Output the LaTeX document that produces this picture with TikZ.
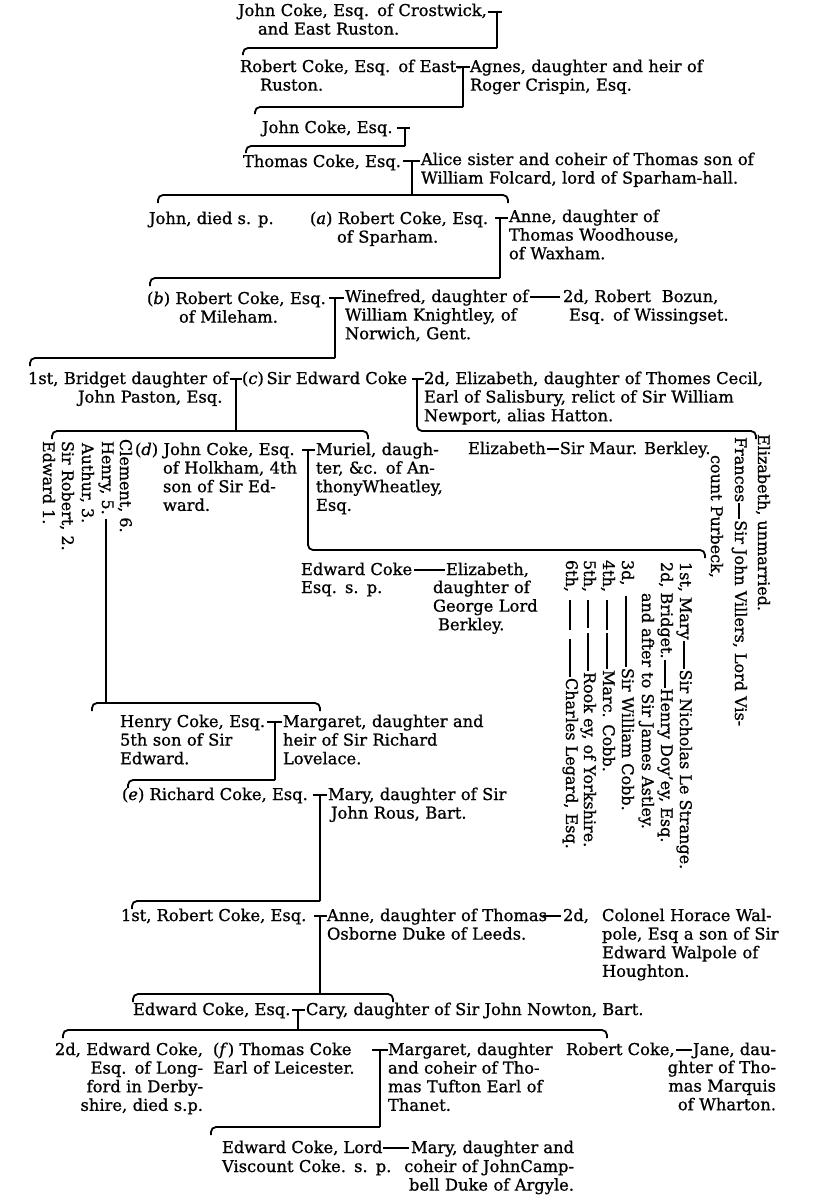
\documentclass[tikz,border=0pt]{standalone}
\usepackage{fontspec}
\setmainfont{DejaVu Serif}[FakeBold=0.9]
\usetikzlibrary{calc}
\newcommand{\jl}[2]{\makebox[#1pt][s]{#2}}
\newcommand{\myfs}{\fontsize{16.3}{18.6}\selectfont}
\newcommand{\myfr}{\fontsize{16}{18}\selectfont}
\begin{document}
\begin{tikzpicture}[x=1pt,y=-1pt,
  every node/.style={inner sep=0pt,outer sep=0pt},
  txt/.style={anchor=base west,align=left,text width=380pt,font=\myfs},
  txr/.style={anchor=base east,align=right,text width=300pt,font=\myfs},
  one/.style={anchor=base west,font=\myfs},
  oner/.style={anchor=base east,font=\myfs},
  rot/.style={anchor=base west,rotate=-90,font=\myfr},
  br/.style={line width=1.8pt,rounded corners=5pt},
  vl/.style={line width=1.7pt},
  tk/.style={line width=1.5pt},
  dsh/.style={line width=1.3pt}]
\fill[white] (0,0) rectangle (823,1200);
\useasboundingbox (0,0) rectangle (823,1200);

% ---- Row A
\node[txt] (a1) at (238,16) {John Coke, Esq. of Crostwick,\\\hspace*{20pt}and East Ruston.};
\coordinate (mA) at (497,12); \coordinate (bA) at (497,48);
\draw[tk] ([xshift=-9pt]mA) -- ([xshift=5pt]mA);
\draw[vl] (mA) -- (bA);
\draw[br] (243,55) -- (243,48) -- (bA);

% ---- Row B
\node[txt] (b1) at (240,72) {Robert Coke, Esq. of East-\\\hspace*{20pt}Ruston.};
\node[txt] (b2) at (470,72) {Agnes, daughter and heir of\\Roger Crispin, Esq.};
\coordinate (mB) at (463,67); \coordinate (bB) at (463,107);
\draw[tk] ([xshift=-7pt]mB) -- ([xshift=7pt]mB);
\draw[vl] (mB) -- (bB);
\draw[br] (255,114) -- (255,107) -- (bB);

% ---- Row C
\node[one] (c1) at (262,133) {John Coke, Esq.};
\coordinate (mC) at (405,128); \coordinate (bC) at (405,146);
\draw[tk] ([xshift=-8pt]mC) -- ([xshift=5pt]mC);
\draw[vl] (mC) -- (bC);
\draw[br] (246,153) -- (246,146) -- (bC);

% ---- Row D
\node[one] (d1) at (243,167) {Thomas Coke, Esq.};
\node[txt] (d2) at (421,165) {Alice sister and coheir of Thomas son of\\William Folcard, lord of Sparham-hall.};
\coordinate (mD) at (412,161); \coordinate (bD) at (412,195);
\draw[tk] ([xshift=-9pt]mD) -- ([xshift=8pt]mD);
\draw[vl] (mD) -- (bD);
\draw[br] (158,203) -- (158,195) -- (508,195) -- (508,203);

% ---- Row E
\node[one] (e1) at (149,224) {John, died s. p.};
\node[txt] (e2) at (310,224) {(\textit{a}) Robert Coke, Esq.\\\hspace*{27pt}of Sparham.};
\node[txt] (e3) at (509,222) {\jl{166}{Anne, daughter of}\\Thomas Woodhouse,\\of Waxham.};
\coordinate (mE) at (500,218); \coordinate (bE) at (500,278);
\draw[tk] ([xshift=-5pt]mE) -- ([xshift=8pt]mE);
\draw[vl] (mE) -- (bE);
\draw[br] (150,286) -- (150,278) -- (bE);

% ---- Row F
\node[txt] (f1) at (147,304) {(\textit{b}) Robert Coke, Esq.\\\hspace*{32pt}of Mileham.};
\node[txt] (f2) at (345,302) {Winefred, daughter of\\William Knightley, of\\Norwich, Gent.};
\node[txt] (f3) at (563,302) {2d, Robert\ \ Bozun,\\\hspace*{6pt}Esq. of Wissingset.};
\draw[dsh] ([xshift=-3pt,yshift=5pt]f3.base west) -- ++(-30,0);
\coordinate (mF) at (335,298); \coordinate (bF) at (335,358);
\draw[tk] ([xshift=-6pt]mF) -- ([xshift=9pt]mF);
\draw[vl] (mF) -- (bF);
\draw[br] (30,366) -- (30,358) -- (bF);

% ---- Row G
\node[txt] (g1) at (28,384) {1st, Bridget daughter of\\\hspace*{50pt}John Paston, Esq.};
\node[one] (g2) at (242,384) {(\textit{c})\,Sir Edward Coke};
\node[txt] (g3) at (424,384) {\jl{330}{2d, Elizabeth, daughter of Thomes Cecil,}\\\jl{330}{Earl of Salisbury, relict of Sir William}\\Newport, alias Hatton.};
\coordinate (mG1) at (236,379); \coordinate (bG1) at (236,431);
\coordinate (mG2) at (417,379); \coordinate (bG2) at (417,431);
\draw[tk] ([xshift=-6pt]mG1) -- ([xshift=6pt]mG1);
\draw[tk] ([xshift=-5pt]mG2) -- ([xshift=7pt]mG2);
\draw[vl] (mG1) -- (bG1);
\draw[br] (52,439) -- (52,431) -- (368,431) -- (368,439);
\draw[br] (mG2) -- (bG2) -- (756,431) -- (756,439);

% ---- sons of first marriage (rotated)
\node[rot] (h01) at (43,441) {Edward 1.};
\node[rot] (h02) at (62,441) {Sir Robert, 2.};
\node[rot] (h03) at (82,443) {Authur, 3.};
\node[rot] (h05) at (102,441) {Henry, 5.};
\node[rot] (h06) at (120,439) {Clement, 6.};

% ---- Row H
\node[txt] (h1) at (135,455) {(\textit{d}) John Coke, Esq.\\\hspace*{28pt}\jl{128}{of Holkham, 4th}\\\hspace*{28pt}\jl{128}{son of Sir Ed-}\\\hspace*{28pt}ward.};
\node[txt] (h2) at (316,455) {\jl{130}{Muriel, daugh-}\\\jl{130}{ter, \&c. of An-}\\thonyWheatley,\\Esq.};
\coordinate (mH) at (308,450); \coordinate (bH) at (308,550);
\draw[tk] ([xshift=-6pt]mH) -- ([xshift=7pt]mH);
\draw[br] (mH) -- (bH) -- (705,550) -- (705,558);
\node[one] (h3) at (468,454) {Elizabeth};
\node[one,xshift=14pt] (h4) at (h3.base east) {Sir Maur. Berkley.};
\draw[dsh] ([xshift=1pt,yshift=5pt]h3.base east) -- ([xshift=-1pt,yshift=5pt]h4.base west);

% ---- daughters of second marriage (rotated)
\node[rot] (r1) at (758,434) {Elizabeth, unmarried.};
\node[rot] (r2) at (735,437) {Frances};
\node[rot] (r3) at ([yshift=-18pt]r2.base east) {Sir John Villers, Lord Vis-};
\draw[dsh] ([xshift=4pt,yshift=-1pt]r2.base east) -- ([xshift=4pt,yshift=1pt]r3.base west);
\node[rot] (r4) at (711,455) {count Purbeck,};

% ---- Row I
\node[one] (i1) at (301,575) {Edward Coke};
\node[one] (i2) at (446,575) {Elizabeth,};
\draw[dsh] ([xshift=2pt,yshift=5pt]i1.base east) -- ([xshift=-1pt,yshift=5pt]i2.base west);
\node[txt] (i3) at (301,593) {Esq. s. p.};
\node[txt] (i4) at (433,593) {\jl{100}{daughter of}\\George Lord\\\hspace*{5pt}Berkley.};

% ---- daughters of John Coke (rotated)
\node[rot] (s1) at (680,562) {1st, Mary};
\node[rot] (s1b) at ([yshift=-30pt]s1.base east) {Sir Nicholas Le Strange.};
\draw[dsh] ([xshift=4pt,yshift=-1pt]s1.base east) -- ([xshift=4pt,yshift=1pt]s1b.base west);
\node[rot] (s2) at (661,562) {2d, Bridget.};
\node[rot] (s2b) at ([yshift=-30pt]s2.base east) {Henry Doy'ey, Esq.};
\draw[dsh] ([xshift=4pt,yshift=-1pt]s2.base east) -- ([xshift=4pt,yshift=1pt]s2b.base west);
\node[rot] (s3) at (642,593) {and after to Sir James Astley.};
\node[rot] (s4) at (622,560) {3d,};
\node[rot] (s4b) at (622,668) {Sir William Cobb.};
\draw[dsh] ([xshift=4pt,yshift=-10pt]s4.base east) -- ([xshift=4pt,yshift=1pt]s4b.base west);
\node[rot] (s5) at (603,560) {4th,};
\node[rot] (s5b) at (603,670) {Marc. Cobb.};
\draw[dsh] ([xshift=4pt,yshift=-8pt]s5.base east) -- ++(0,30);
\draw[dsh] ([xshift=4pt,yshift=1pt]s5b.base west) -- ++(0,-36);
\node[rot] (s6) at (584,560) {5th,};
\node[rot] (s6b) at (584,672) {Rook ey, of Yorkshire.};
\draw[dsh] ([xshift=4pt,yshift=-8pt]s6.base east) -- ++(0,28);
\draw[dsh] ([xshift=4pt,yshift=1pt]s6b.base west) -- ++(0,-38);
\node[rot] (s7) at (566,560) {6th,};
\node[rot] (s7b) at (566,678) {Charles Legard, Esq.};
\draw[dsh] ([xshift=4pt,yshift=-8pt]s7.base east) -- ++(0,30);
\draw[dsh] ([xshift=4pt,yshift=1pt]s7b.base west) -- ++(0,-38);

% ---- Henry line
\coordinate (hbk) at (108,703);
\draw[vl] ([yshift=-4pt]h05.east) -- (h05.east |- hbk);
\draw[br] (92,711) -- (92,703) -- (320,703) -- (320,711);

% ---- Row J
\node[txt] (j1) at (120,727) {Henry Coke, Esq.\\5th son of Sir\\Edward.};
\node[txt] (j2) at (283,727) {Margaret, daughter and\\\jl{188}{heir of Sir Richard}\\Lovelace.};
\coordinate (mJ) at (275,722); \coordinate (bJ) at (275,780);
\draw[tk] ([xshift=-8pt]mJ) -- ([xshift=7pt]mJ);
\draw[vl] (mJ) -- (bJ);
\draw[br] (128,788) -- (128,780) -- (bJ);

% ---- Row K
\node[one] (k1) at (122,800) {(\textit{e}) Richard Coke, Esq.};
\node[txt] (k2) at (328,800) {Mary, daughter of Sir\\\hspace*{3pt}John Rous, Bart.};
\coordinate (mK) at (320,795); \coordinate (bK) at (320,901);
\draw[tk] ([xshift=-7pt]mK) -- ([xshift=7pt]mK);
\draw[vl] (mK) -- (bK);
\draw[br] (132,909) -- (132,901) -- (bK);

% ---- Row L
\node[one] (l1) at (121,921) {1st, Robert Coke, Esq.};
\node[txt] (l2) at (327,921) {Anne, daughter of Thomas\\Osborne Duke of Leeds.};
\node[one] (l3) at (563,921) {2d,};
\draw[dsh] ([xshift=-2pt,yshift=5pt]l3.base west) -- ++(-18,0);
\node[txt] (l4) at (602,921) {\jl{202}{Colonel Horace Wal-}\\\jl{202}{pole, Esq a son of Sir}\\\jl{202}{Edward Walpole of}\\Houghton.};
\coordinate (mL) at (320,916); \coordinate (bL) at (320,994);
\draw[tk] ([xshift=-6pt]mL) -- ([xshift=7pt]mL);
\draw[vl] (mL) -- (bL);
\draw[br] (133,1002) -- (133,994) -- (393,994) -- (393,1002);

% ---- Row M
\node[one] (m1) at (133,1015) {Edward Coke, Esq.};
\node[one] (m2) at (306,1015) {Cary, daughter of Sir John Nowton, Bart.};
\coordinate (mM) at (298,1010); \coordinate (bM) at (298,1030);
\draw[tk] ([xshift=-6pt]mM) -- ([xshift=7pt]mM);
\draw[vl] (mM) -- (bM);
\draw[br] (63,1038) -- (63,1030) -- (607,1030) -- (607,1038);

% ---- Row N
\node[txr] (o1) at (203,1055) {2d, Edward Coke,\\Esq. of Long-\\ford in Derby-\\shire, died s.p.};
\node[txt] (o2) at (213,1055) {(\textit{f})\ Thomas Coke\\Earl of Leicester.};
\node[txt] (o3) at (388,1055) {\jl{158}{Margaret, daughter}\\\jl{158}{and coheir of Tho-}\\\jl{158}{mas Tufton Earl of}\\Thanet.};
\coordinate (mN) at (380,1050); \coordinate (bN) at (380,1127);
\draw[tk] ([xshift=-8pt]mN) -- ([xshift=8pt]mN);
\draw[vl] (mN) -- (bN);
\draw[br] (211,1135) -- (211,1127) -- (bN);
\node[one] (o4) at (566,1055) {Robert Coke,};
\node[oner] (o5) at (776,1055) {Jane, dau-};
\draw[dsh] ([xshift=1pt,yshift=5pt]o4.base east) -- ([xshift=-1pt,yshift=5pt]o5.base west);
\node[txr] (o6) at (776,1073) {ghter of Tho-\\mas Marquis\\of Wharton.};

% ---- Row O
\node[one] (p1) at (222,1153) {Edward Coke, Lord};
\node[txt] (p2) at (222,1172) {Viscount Coke. s. p.};
\node[oner] (p3) at (574,1153) {Mary, daughter and};
\draw[dsh] ([xshift=1pt,yshift=5pt]p1.base east) -- ([xshift=-2pt,yshift=5pt]p3.base west);
\node[txr] (p4) at (574,1172) {coheir of JohnCamp-\\bell Duke of Argyle.};
\end{tikzpicture}
\end{document}
